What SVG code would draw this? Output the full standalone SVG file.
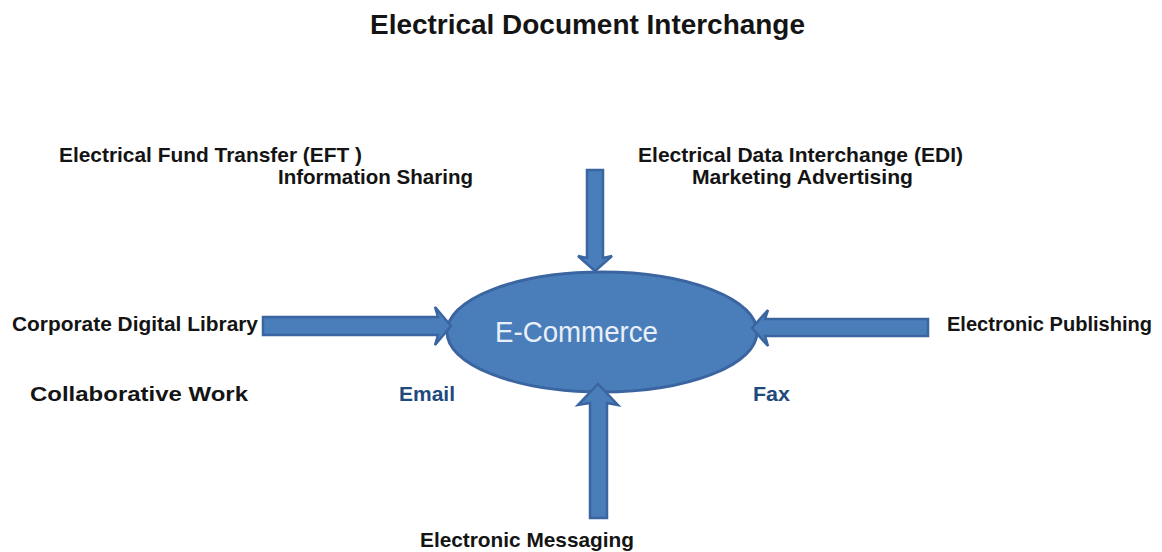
<svg xmlns="http://www.w3.org/2000/svg" width="1162" height="552" viewBox="0 0 1162 552">
  <style>
    .lbl { font-family: "Liberation Sans", Arial, sans-serif; font-weight: bold; font-size: 21px; fill: #141414; }
    .blue { fill: #1F4A7E; }
    .title { font-family: "Liberation Sans", Arial, sans-serif; font-weight: bold; font-size: 28px; fill: #141414; }
    .arrow { fill: #4A7EBB; stroke: #3A65A0; stroke-width: 2.5; stroke-linejoin: miter; }
    .hub { fill: #4A7EBB; stroke: #3A65A0; stroke-width: 3; }
    .hubtxt { font-family: "Liberation Sans", Arial, sans-serif; font-size: 29px; fill: #E9EFF8; }
  </style>
  <rect width="1162" height="552" fill="#ffffff"/>
  <text class="title" x="370" y="34" textLength="435" lengthAdjust="spacingAndGlyphs">Electrical Document Interchange</text>

  <g id="node-ecommerce">
    <ellipse class="hub" cx="602" cy="332" rx="155" ry="60"/>
    <text class="hubtxt" x="495" y="342" textLength="163" lengthAdjust="spacingAndGlyphs">E-Commerce</text>
  </g>

  <g id="connectors">
    <polygon class="arrow" points="587,170 603,170 603,258 612,256 595,271 578,256 587,258"/>
    <polygon class="arrow" points="263,317 438,317 435,307 451,326 435,345 438,335 263,335"/>
    <polygon class="arrow" points="928,319 765,319 768,310 752,328 768,346 765,336 928,336"/>
    <polygon class="arrow" points="590,518 607,518 607,403 618,405 598,384 578,405 590,403"/>
  </g>

  <g id="node-eft"><text class="lbl" x="59" y="162" textLength="303" lengthAdjust="spacingAndGlyphs">Electrical Fund Transfer (EFT )</text></g>
  <g id="node-info"><text class="lbl" x="278" y="184" textLength="195" lengthAdjust="spacingAndGlyphs">Information Sharing</text></g>
  <g id="node-edi"><text class="lbl" x="638" y="162" textLength="325" lengthAdjust="spacingAndGlyphs">Electrical Data Interchange (EDI)</text></g>
  <g id="node-marketing"><text class="lbl" x="692" y="184" textLength="221" lengthAdjust="spacingAndGlyphs">Marketing Advertising</text></g>
  <g id="node-library"><text class="lbl" x="12" y="331" textLength="246" lengthAdjust="spacingAndGlyphs">Corporate Digital Library</text></g>
  <g id="node-publishing"><text class="lbl" x="947" y="331" textLength="205" lengthAdjust="spacingAndGlyphs">Electronic Publishing</text></g>
  <g id="node-collab"><text class="lbl" x="30" y="401" textLength="218" lengthAdjust="spacingAndGlyphs">Collaborative Work</text></g>
  <g id="node-email"><text class="lbl blue" x="399" y="401" textLength="56" lengthAdjust="spacingAndGlyphs">Email</text></g>
  <g id="node-fax"><text class="lbl blue" x="753" y="401" textLength="37" lengthAdjust="spacingAndGlyphs">Fax</text></g>
  <g id="node-messaging"><text class="lbl" x="420" y="547" textLength="214" lengthAdjust="spacingAndGlyphs">Electronic Messaging</text></g>
</svg>
